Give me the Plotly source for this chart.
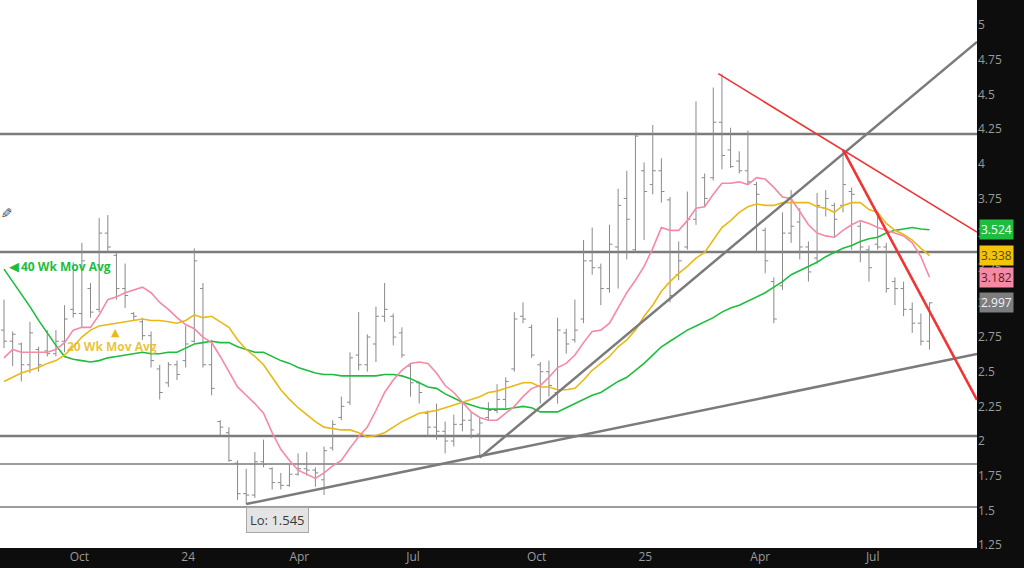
import pandas as pd
import plotly.graph_objects as go

# ---------------- data ----------------
dates = pd.date_range("2023-07-31", periods=108, freq="7D")

opens = [2.80, 2.72, 2.70, 2.55, 2.66, 2.65, 2.63, 2.72, 2.95, 2.92,
         3.10, 2.95, 3.50, 3.34, 3.10, 2.92, 2.86, 2.76, 2.52, 2.42,
         2.55, 2.58, 2.72, 3.10, 2.55, 2.14, 2.06, 1.84, 1.62, 1.61,
         1.85, 1.80, 1.70, 1.68, 1.76, 1.80, 1.79, 1.72, 1.95, 2.17,
         2.28, 2.62, 2.55, 2.70, 2.90, 2.90, 2.78, 2.54, 2.42, 2.20,
         2.10, 2.07, 2.00, 2.12, 2.15, 2.05, 2.17, 2.22, 2.30, 2.52,
         2.90, 2.82, 2.55, 2.50, 2.35, 2.78, 2.73, 2.88, 3.30, 3.25,
         3.10, 3.40, 3.75, 3.38, 3.95, 3.85, 3.95, 3.74, 3.20, 3.40,
         3.60, 3.90, 3.90, 4.30, 4.10, 4.02, 3.95, 3.85, 3.52, 3.15,
         3.12, 3.50, 3.58, 3.40, 3.32, 3.68, 3.70, 3.70, 3.80, 3.55,
         3.38, 3.42, 3.40, 3.15, 3.10, 2.95, 2.85, 2.72]
highs = [3.02, 2.79, 2.71, 2.86, 2.68, 2.80, 2.80, 2.98, 3.29, 3.43,
         3.14, 3.61, 3.63, 3.36, 3.28, 2.93, 2.89, 2.79, 2.55, 2.57,
         2.58, 2.83, 3.39, 3.14, 2.73, 2.15, 2.10, 1.86, 1.80, 1.92,
         2.01, 1.81, 1.77, 1.83, 1.91, 1.92, 1.81, 1.96, 2.15, 2.32,
         2.64, 2.93, 2.77, 2.97, 3.14, 2.92, 2.82, 2.56, 2.43, 2.22,
         2.27, 2.14, 2.19, 2.28, 2.21, 2.17, 2.28, 2.41, 2.46, 2.93,
         3.00, 2.84, 2.57, 2.58, 2.89, 2.81, 3.02, 3.45, 3.54, 3.28,
         3.56, 3.82, 3.95, 4.21, 4.01, 4.28, 4.04, 3.76, 3.44, 3.80,
         4.45, 3.93, 4.55, 4.65, 4.26, 4.09, 4.24, 3.87, 3.54, 3.18,
         3.65, 3.81, 3.68, 3.44, 3.79, 3.81, 3.72, 4.10, 3.83, 3.58,
         3.41, 3.65, 3.43, 3.18, 3.15, 3.00, 2.92, 3.00]
lows = [2.67, 2.54, 2.43, 2.49, 2.50, 2.61, 2.61, 2.64, 2.89, 2.82,
        2.89, 2.93, 3.36, 3.02, 2.96, 2.87, 2.73, 2.53, 2.30, 2.39,
        2.44, 2.53, 2.71, 2.53, 2.33, 2.04, 1.85, 1.575, 1.545, 1.59,
        1.81, 1.65, 1.65, 1.67, 1.75, 1.75, 1.67, 1.61, 1.93, 2.15,
        2.26, 2.51, 2.50, 2.57, 2.86, 2.69, 2.60, 2.32, 2.27, 2.03,
        2.01, 1.91, 1.96, 2.07, 2.02, 1.88, 2.15, 2.20, 2.24, 2.50,
        2.85, 2.60, 2.27, 2.32, 2.27, 2.63, 2.71, 2.85, 3.20, 2.98,
        3.07, 3.10, 3.31, 3.36, 3.45, 3.78, 3.72, 3.00, 3.16, 3.38,
        3.56, 3.69, 3.88, 3.96, 3.97, 3.93, 3.85, 3.36, 3.21, 2.85,
        3.09, 3.43, 3.31, 3.15, 3.28, 3.62, 3.47, 3.65, 3.38, 3.29,
        3.15, 3.38, 3.07, 2.98, 2.90, 2.78, 2.69, 2.66]
closes = [2.72, 2.77, 2.55, 2.78, 2.55, 2.63, 2.72, 2.88, 2.92, 3.30,
          2.93, 3.50, 3.40, 3.10, 3.05, 2.90, 2.76, 2.58, 2.35, 2.55,
          2.48, 2.70, 3.30, 2.55, 2.38, 2.10, 1.86, 1.62, 1.61, 1.85,
          1.83, 1.70, 1.68, 1.76, 1.80, 1.79, 1.77, 1.93, 2.12, 2.25,
          2.60, 2.55, 2.75, 2.90, 2.95, 2.75, 2.62, 2.42, 2.35, 2.10,
          2.07, 2.00, 2.12, 2.15, 2.08, 2.13, 2.22, 2.30, 2.43, 2.88,
          2.88, 2.62, 2.50, 2.40, 2.80, 2.70, 2.80, 3.30, 3.25, 3.10,
          3.42, 3.70, 3.60, 4.20, 3.80, 3.95, 3.80, 3.05, 3.30, 3.60,
          4.22, 3.75, 4.30, 4.06, 3.98, 3.95, 3.87, 3.78, 3.30, 2.88,
          3.50, 3.55, 3.40, 3.22, 3.70, 3.75, 3.60, 3.85, 3.78, 3.40,
          3.25, 3.40, 3.10, 3.10, 2.95, 2.85, 2.72, 2.997]

ma_10wk = [2.60, 2.66, 2.64, 2.64, 2.64, 2.64, 2.66, 2.71, 2.80, 2.82,
           2.82, 2.91, 3.02, 3.04, 3.07, 3.09, 3.11, 3.07, 3.00, 2.95,
           2.89, 2.84, 2.81, 2.75, 2.71, 2.61, 2.50, 2.39, 2.33, 2.27,
           2.20, 2.06, 1.94, 1.86, 1.79, 1.76, 1.73, 1.77, 1.82, 1.86,
           1.95, 2.03, 2.10, 2.22, 2.35, 2.44, 2.51, 2.56, 2.57, 2.56,
           2.49, 2.40, 2.35, 2.28, 2.21, 2.17, 2.15, 2.15, 2.20, 2.25,
           2.32, 2.38, 2.40, 2.46, 2.53, 2.56, 2.62, 2.71, 2.79, 2.80,
           2.85, 2.96, 3.07, 3.16, 3.26, 3.39, 3.54, 3.52, 3.52, 3.59,
           3.68, 3.69, 3.78, 3.86, 3.86, 3.87, 3.85, 3.90, 3.89, 3.83,
           3.76, 3.75, 3.65, 3.56, 3.50, 3.48, 3.47, 3.52, 3.56, 3.59,
           3.57, 3.54, 3.52, 3.50, 3.48, 3.43, 3.33, 3.182]
ma_20wk = [2.43, 2.46, 2.49, 2.51, 2.53, 2.56, 2.58, 2.62, 2.68, 2.75,
           2.80, 2.83, 2.84, 2.85, 2.86, 2.87, 2.88, 2.87, 2.87, 2.86,
           2.85, 2.87, 2.91, 2.89, 2.90, 2.86, 2.82, 2.73, 2.66, 2.61,
           2.55, 2.46, 2.37, 2.30, 2.24, 2.19, 2.14, 2.10, 2.09, 2.08,
           2.08, 2.06, 2.03, 2.04, 2.06, 2.10, 2.14, 2.17, 2.20, 2.21,
           2.22, 2.24, 2.26, 2.28, 2.30, 2.32, 2.35, 2.36, 2.38, 2.40,
           2.42, 2.42, 2.39, 2.39, 2.37, 2.37, 2.38, 2.44, 2.51, 2.56,
           2.61, 2.68, 2.73, 2.80, 2.90, 2.98, 3.08, 3.15, 3.21, 3.26,
           3.32, 3.36, 3.45, 3.54, 3.59, 3.65, 3.69, 3.71, 3.70, 3.70,
           3.72, 3.72, 3.72, 3.72, 3.69, 3.68, 3.65, 3.70, 3.72, 3.72,
           3.67, 3.65, 3.57, 3.52, 3.49, 3.45, 3.39, 3.338]
ma_40wk = [3.24, 3.15, 3.06, 2.97, 2.87, 2.78, 2.69, 2.61, 2.59, 2.58,
           2.57, 2.58, 2.60, 2.61, 2.62, 2.63, 2.64, 2.63, 2.63, 2.64,
           2.64, 2.67, 2.70, 2.71, 2.72, 2.71, 2.71, 2.68, 2.66, 2.64,
           2.64, 2.61, 2.58, 2.56, 2.53, 2.51, 2.49, 2.48, 2.48, 2.47,
           2.47, 2.47, 2.47, 2.47, 2.48, 2.48, 2.47, 2.45, 2.42, 2.39,
           2.38, 2.34, 2.31, 2.28, 2.26, 2.24, 2.23, 2.23, 2.23, 2.24,
           2.25, 2.24, 2.21, 2.21, 2.21, 2.24, 2.27, 2.30, 2.33, 2.35,
           2.39, 2.43, 2.46, 2.51, 2.56, 2.62, 2.68, 2.72, 2.76, 2.80,
           2.83, 2.86, 2.89, 2.93, 2.96, 2.98, 3.01, 3.04, 3.07, 3.11,
           3.15, 3.20, 3.23, 3.26, 3.29, 3.33, 3.36, 3.39, 3.41, 3.44,
           3.46, 3.47, 3.50, 3.52, 3.53, 3.54, 3.53, 3.524]

# horizontal support / resistance levels
levels = [4.215, 3.364, 2.036, 1.834, 1.524]
level_widths = [2.5, 2.5, 2.5, 1.5, 1.5]

# drawn trend lines (date, price)
lower_trend_x = ["2024-02-12", "2025-09-25 10:00"]
lower_trend_y = [1.545, 2.628]
upper_trend_x = ["2024-08-19", "2025-09-25 10:00"]
upper_trend_y = [1.88, 4.88]
red_thin_x = ["2025-02-28", "2025-09-25 10:00"]
red_thin_y = [4.65, 3.508]
red_thick_x = ["2025-06-09", "2025-09-25 10:00"]
red_thick_y = [4.10, 2.296]

tick_dates = ["2023-09-30", "2023-12-27", "2024-03-26", "2024-06-26",
              "2024-10-04", "2024-12-31", "2025-04-03", "2025-07-03"]
tick_labels = ["Oct", "24", "Apr", "Jul", "Oct", "25", "Apr", "Jul"]

y_ticks = [1.25, 1.5, 1.75, 2, 2.25, 2.5, 2.75, 3, 3.25, 3.5, 3.75, 4,
           4.25, 4.5, 4.75, 5]
y_tick_labels = ["1.25", "1.5", "1.75", "2", "2.25", "2.5", "2.75", "3",
                 "3.25", "3.5", "3.75", "4", "4.25", "4.5", "4.75", "5"]

last_values = [ma_40wk[-1], ma_20wk[-1], ma_10wk[-1], closes[-1]]
last_labels = ["3.524", "3.338", "3.182", "2.997"]

# ---------------- styling ----------------
GREEN = "#1fbd3f"
GOLD = "#e8b917"
PINK = "#f58aa4"
BAR = "#8a8a8a"
LINE_GRAY = "#7b7b7b"
RED = "#ee3434"

fig = go.Figure()

for lv, w in zip(levels, level_widths):
    fig.add_shape(type="line", xref="paper", x0=0, x1=1, yref="y", y0=lv, y1=lv,
                  line=dict(color=LINE_GRAY, width=w), layer="below")

fig.add_trace(go.Scatter(x=dates, y=ma_40wk, mode="lines",
                         line=dict(color=GREEN, width=1.6), hoverinfo="skip"))
fig.add_trace(go.Scatter(x=dates, y=ma_20wk, mode="lines",
                         line=dict(color=GOLD, width=1.6), hoverinfo="skip"))
fig.add_trace(go.Scatter(x=dates, y=ma_10wk, mode="lines",
                         line=dict(color=PINK, width=1.6), hoverinfo="skip"))

fig.add_trace(go.Ohlc(x=dates, open=opens, high=highs, low=lows, close=closes,
                      increasing=dict(line=dict(color=BAR, width=1)),
                      decreasing=dict(line=dict(color=BAR, width=1)),
                      tickwidth=0.35, hoverinfo="skip"))

fig.add_trace(go.Scatter(x=lower_trend_x, y=lower_trend_y, mode="lines",
                         line=dict(color=LINE_GRAY, width=2.5), hoverinfo="skip"))
fig.add_trace(go.Scatter(x=upper_trend_x, y=upper_trend_y, mode="lines",
                         line=dict(color=LINE_GRAY, width=2.5), hoverinfo="skip"))
fig.add_trace(go.Scatter(x=red_thin_x, y=red_thin_y, mode="lines",
                         line=dict(color=RED, width=1.5), hoverinfo="skip"))
fig.add_trace(go.Scatter(x=red_thick_x, y=red_thick_y, mode="lines",
                         line=dict(color=RED, width=2.6), hoverinfo="skip"))

# drawing-tool pencil icon
fig.add_annotation(x=0.006, y=0.611, xref="paper", yref="paper", text="✎",
                   showarrow=False, textangle=90,
                   font=dict(color="#444444", size=14, family="DejaVu Sans"),
                   xanchor="center", yanchor="middle")

# moving-average captions
fig.add_annotation(x="2023-08-08", y=3.256, xref="x", yref="y", text="◀",
                   showarrow=False, font=dict(color=GREEN, size=13, family="DejaVu Sans"),
                   xanchor="center", yanchor="middle")
fig.add_annotation(x="2023-08-12", y=3.256, xref="x", yref="y",
                   text="<b>40 Wk Mov Avg</b>", showarrow=False,
                   font=dict(color=GREEN, size=12, family="Open Sans"),
                   xanchor="left", yanchor="middle")
fig.add_annotation(x="2023-10-29", y=2.785, xref="x", yref="y", text="▲",
                   showarrow=False, font=dict(color=GOLD, size=11, family="DejaVu Sans"),
                   xanchor="center", yanchor="middle")
fig.add_annotation(x="2023-09-18", y=2.68, xref="x", yref="y",
                   text="<b>20 Wk Mov Avg</b>", showarrow=False,
                   font=dict(color="rgba(232,185,23,0.85)", size=12, family="Open Sans"),
                   xanchor="left", yanchor="middle")

# low label
fig.add_annotation(x="2024-03-08", y=1.43, xref="x", yref="y", text="Lo: 1.545",
                   showarrow=False, font=dict(color="#3a3a3a", size=13, family="Open Sans"),
                   bgcolor="#e4e4e4", bordercolor="#a8a8a8", borderwidth=1, borderpad=3)

# last-value boxes on the price axis
box_styles = [(GREEN, "#ffffff"), ("#f2c40c", "#5b4a00"), (PINK, "#5a1a28"), ("#7d7d7d", "#f2f2f2")]
for val, lab, (bg, fg) in zip(last_values, last_labels, box_styles):
    fig.add_annotation(x=1, xref="paper", xanchor="left", xshift=2, y=val, yref="y",
                       text=lab, showarrow=False, bgcolor=bg, borderpad=1,
                       font=dict(color=fg, size=12, family="Open Sans"))

fig.update_layout(
    width=1024, height=568,
    margin=dict(l=0, r=47, t=0, b=20, pad=0),
    paper_bgcolor="#0d0d0d", plot_bgcolor="#ffffff",
    showlegend=False, hovermode=False,
    xaxis=dict(type="date", range=["2023-07-27 18:00", "2025-09-25 10:00"],
               tickvals=tick_dates, ticktext=tick_labels, showgrid=False,
               zeroline=False, ticks="", showline=False,
               tickfont=dict(color="#9a9a9a", size=12, family="Open Sans"),
               rangeslider=dict(visible=False)),
    yaxis=dict(side="right", range=[1.228, 5.182], tickvals=y_ticks,
               ticktext=y_tick_labels, showgrid=False, zeroline=False,
               ticks="", showline=False,
               tickfont=dict(color="#9a9a9a", size=12, family="Open Sans")),
)

fig.write_html("out.html", config={"displayModeBar": False},
               post_script="document.body.style.margin='0';")
